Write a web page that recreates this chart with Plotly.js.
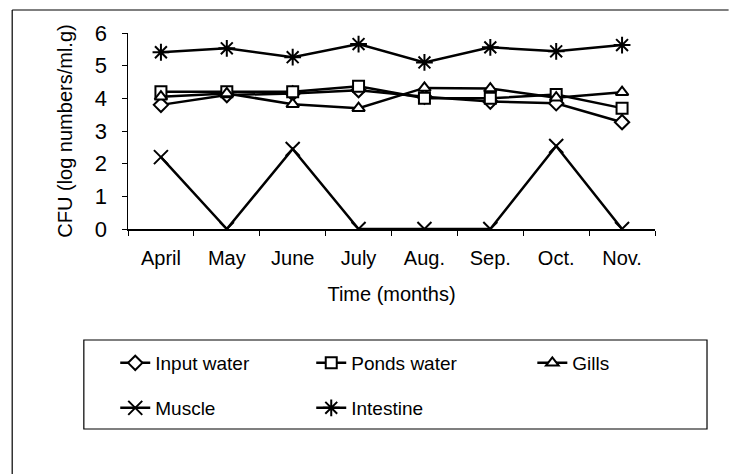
<!DOCTYPE html>
<html><head><meta charset="utf-8">
<script src="https://cdn.plot.ly/plotly-3.0.1.min.js"></script>
<style>html,body{margin:0;padding:0;background:#fff}#chart{width:740px;height:474px}</style>
</head><body><div id="chart"></div>
<script>
const months = ["April","May","June","July","Aug.","Sep.","Oct.","Nov."];
const inputWater = [3.8, 4.1, 4.15, 4.25, 4.05, 3.9, 3.85, 3.27];
const pondsWater = [4.2, 4.2, 4.2, 4.37, 4.0, 4.0, 4.12, 3.7];
const gills      = [4.05, 4.15, 3.82, 3.7, 4.32, 4.3, 4.02, 4.19];
const muscle     = [2.2, 0, 2.45, 0, 0, 0, 2.54, 0];
const intestine  = [5.41, 5.53, 5.26, 5.66, 5.1, 5.56, 5.44, 5.63];

const FONT = "Liberation Sans, Arial, sans-serif";
function tr(name, y, symbol, fill, size, legend) {
  return {
    x: months, y: y, name: name, type: "scatter", mode: "lines+markers",
    line: {color: "#000", width: 2.5},
    marker: {symbol: symbol, size: size, color: fill, line: {color: "#000", width: 2}},
    legend: legend
  };
}
const data = [
  tr("Input water", inputWater, "diamond", "#fff", 11, "legend"),
  tr("Ponds water", pondsWater, "square", "#fff", 11, "legend"),
  tr("Gills", gills, "triangle-up", "#fff", 11, "legend3"),
  tr("Muscle", muscle, "x-thin-open", "#000", 14, "legend2"),
  tr("Intestine", intestine, "asterisk-open", "#000", 14, "legend2")
];
const L = 128, R = 665, T = 33, B = 229;
const pw = R - L, ph = B - T;
const px = x => (x - L) / pw;
const py = y => (B - y) / ph;
const legFont = {family: FONT, size: 19, color: "#000"};
function leg(x, y) {
  return {
    orientation: "h", x: px(x), xanchor: "left", y: py(y), yanchor: "middle",
    entrywidth: 151, entrywidthmode: "pixels", font: legFont,
    bgcolor: "rgba(0,0,0,0)", borderwidth: 0, itemclick: false
  };
}
const shapes = [
  {type: "line", xref: "paper", yref: "paper", x0: px(10), x1: px(740), y0: py(10), y1: py(10), line: {color: "#000", width: 1.2}},
  {type: "line", xref: "paper", yref: "paper", x0: px(10), x1: px(10), y0: py(10), y1: py(474), line: {color: "#000", width: 1.2}},
  {type: "rect", xref: "paper", yref: "paper", x0: px(83), x1: px(718), y0: py(340), y1: py(429),
   line: {color: "#000", width: 1.2}, fillcolor: "rgba(0,0,0,0)", layer: "below"}
];
const layout = {
  width: 740, height: 474,
  margin: {l: L, r: 740 - R, t: T, b: 474 - B},
  paper_bgcolor: "#fff", plot_bgcolor: "#fff",
  font: {family: FONT, color: "#000"},
  showlegend: true,
  xaxis: {
    type: "category", range: [-0.5, 7.5],
    showline: true, linecolor: "#000", linewidth: 1.5,
    ticks: "outside", tickson: "boundaries", ticklen: 5, tickcolor: "#000",
    showgrid: false, zeroline: false, ticklabelstandoff: 10,
    tickfont: {family: FONT, size: 20, color: "#000"},
    title: {text: "Time (months)", font: {family: FONT, size: 20, color: "#000"}, standoff: 19}
  },
  yaxis: {
    range: [0, 6], dtick: 1, tick0: 0,
    showline: true, linecolor: "#000", linewidth: 1.5,
    ticks: "outside", ticklen: 5, tickcolor: "#000",
    showgrid: false, zeroline: false, ticklabelstandoff: 10,
    tickfont: {family: FONT, size: 22, color: "#000"},
    title: {text: "CFU (log numbers/ml.g)", font: {family: FONT, size: 20, color: "#000"}, standoff: 17}
  },
  legend: leg(115, 363),
  legend2: leg(115, 408),
  legend3: leg(540, 363),
  shapes: shapes
};
Plotly.newPlot("chart", data, layout, {displayModeBar: false, staticPlot: true});
</script></body></html>
